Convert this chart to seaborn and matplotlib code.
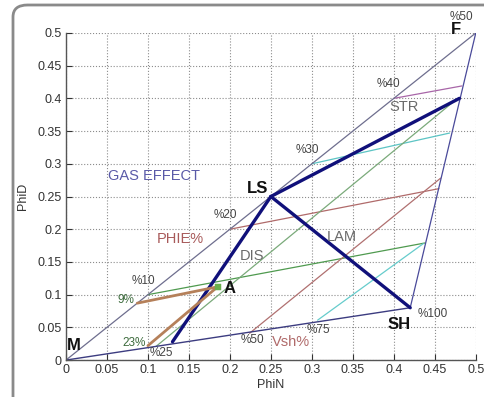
import matplotlib
matplotlib.use("Agg")
import matplotlib.pyplot as plt
from matplotlib.patches import FancyBboxPatch
import pandas as pd
import seaborn as sns

# triangle M - F - SH and the LS point
tri_x = [0.0, 0.5, 0.42, 0.0]
tri_y = [0.0, 0.5, 0.08, 0.0]
ls_x, ls_y = 0.25, 0.25

# thick model lines from LS: STR, LAM (to SH), DIS
model_end_x = [0.48, 0.42, 0.13]
model_end_y = [0.40, 0.08, 0.028]

# iso-porosity lines (PHIE%)
phie_labels = ["%10", "%20", "%30", "%40"]
phie_x0 = [0.10, 0.20, 0.30, 0.40]
phie_y0 = [0.10, 0.20, 0.30, 0.40]
phie_x1 = [0.438, 0.455, 0.468, 0.483]
phie_y1 = [0.179, 0.262, 0.347, 0.419]
phie_colors = ["#4f9a4f", "#b06a6a", "#5cc4c4", "#a866a8"]

# iso-shale lines (Vsh%)
vsh_labels = ["%25", "%50", "%75"]
vsh_x0 = [0.11, 0.224, 0.307]
vsh_y0 = [0.021, 0.041, 0.061]
vsh_x1 = [0.472, 0.457, 0.436]
vsh_y1 = [0.394, 0.278, 0.178]
vsh_colors = ["#7aaa7a", "#b07070", "#66cccc"]

# sample point A and its readings
a_x, a_y = 0.185, 0.112
read_x = [0.087, 0.10]
read_y = [0.087, 0.022]


def seg(ax, x, y, color, lw):
    d = pd.DataFrame({"x": x, "y": y})
    sns.lineplot(data=d, x="x", y="y", sort=False, color=color, lw=lw, ax=ax)


sns.set_style("whitegrid", {"grid.linestyle": ":", "grid.color": "#8c8c8c"})
plt.rcParams["font.family"] = ["Liberation Sans", "DejaVu Sans"]
plt.rcParams["grid.linewidth"] = 0.8

fig = plt.figure(figsize=(4.85, 3.97), dpi=100)
ax = fig.add_axes([0.136, 0.093, 0.845, 0.824])

for x0, y0, x1, y1, c in zip(phie_x0, phie_y0, phie_x1, phie_y1, phie_colors):
    seg(ax, [x0, x1], [y0, y1], c, 0.9)
for x0, y0, x1, y1, c in zip(vsh_x0, vsh_y0, vsh_x1, vsh_y1, vsh_colors):
    seg(ax, [x0, x1], [y0, y1], c, 0.9)

seg(ax, tri_x[:2], tri_y[:2], "#6e6e8e", 0.9)
seg(ax, tri_x[1:3], tri_y[1:3], "#4a4a9a", 0.9)
seg(ax, tri_x[2:], tri_y[2:], "#3c3c80", 1.0)

for ex, ey in zip(model_end_x, model_end_y):
    seg(ax, [ls_x, ex], [ls_y, ey], "#10107a", 2.4)

for rx, ry in zip(read_x, read_y):
    seg(ax, [rx, a_x], [ry, a_y], "#b5805a", 2.0)
sns.scatterplot(x=[a_x], y=[a_y], marker="s", s=18, color="#6ab04c",
                edgecolor="#6ab04c", ax=ax, zorder=5)

ax.set_xlim(0, 0.5)
ax.set_ylim(0, 0.5)
ax.set_xticks([i * 0.05 for i in range(11)])
ax.set_yticks([i * 0.05 for i in range(11)])
ax.set_xticklabels(["0", "0.05", "0.1", "0.15", "0.2", "0.25", "0.3", "0.35", "0.4", "0.45", "0.5"])
ax.set_yticklabels(["0", "0.05", "0.1", "0.15", "0.2", "0.25", "0.3", "0.35", "0.4", "0.45", "0.5"])
ax.tick_params(direction="in", length=4, labelsize=9, colors="#333333",
               bottom=True, left=True, pad=3)
ax.set_xlabel("PhiN", fontsize=9, color="#333333", labelpad=2)
ax.set_ylabel("PhiD", fontsize=9, color="#333333", labelpad=6)
for side in ["top", "right"]:
    ax.spines[side].set_visible(False)
for side in ["left", "bottom"]:
    ax.spines[side].set_color("#555555")
    ax.spines[side].set_linewidth(1.0)

small = dict(fontsize=8.5, color="#444444")
bold = dict(fontsize=12, fontweight="bold", color="#111111")
region = dict(fontsize=10.5, color="#6a6a6a")

ax.text(0.476, 0.505, "F", ha="center", va="center", clip_on=False, **bold)
ax.text(0.483, 0.525, "%50", ha="center", va="center", clip_on=False, **small)
ax.text(0.234, 0.263, "LS", ha="center", va="center", **bold)
ax.text(0.407, 0.054, "SH", ha="center", va="center", **bold)
ax.text(0.009, 0.023, "M", ha="center", va="center", **bold)
ax.text(0.200, 0.109, "A", ha="center", va="center", **bold)

ax.text(0.393, 0.422, "%40", ha="center", va="center", **small)
ax.text(0.295, 0.321, "%30", ha="center", va="center", **small)
ax.text(0.195, 0.222, "%20", ha="center", va="center", **small)
ax.text(0.094, 0.121, "%10", ha="center", va="center", **small)
ax.text(0.116, 0.011, "%25", ha="center", va="center", **small)
ax.text(0.228, 0.030, "%50", ha="center", va="center", **small)
ax.text(0.308, 0.046, "%75", ha="center", va="center", **small)
ax.text(0.448, 0.071, "%100", ha="center", va="center", **small)

ax.text(0.073, 0.092, "9%", ha="center", va="center", fontsize=8.5, color="#3d6b3d")
ax.text(0.083, 0.026, "23%", ha="center", va="center", fontsize=8.5, color="#3d6b3d")

ax.text(0.413, 0.387, "STR", ha="center", va="center", **region)
ax.text(0.227, 0.159, "DIS", ha="center", va="center", **region)
ax.text(0.337, 0.188, "LAM", ha="center", va="center", **region)
ax.text(0.108, 0.281, "GAS EFFECT", ha="center", va="center", fontsize=10.5, color="#5a5aa8")
ax.text(0.139, 0.185, "PHIE%", ha="center", va="center", fontsize=10.5, color="#a85a5a")
ax.text(0.275, 0.028, "Vsh%", ha="center", va="center", fontsize=10.5, color="#b06a6a")

# rounded frame around the figure
frame = FancyBboxPatch((13 / 485, -0.2), 1.2, 1 - 5 / 397 + 0.2,
                       boxstyle="round,pad=0,rounding_size=0.03",
                       transform=fig.transFigure, fill=False,
                       edgecolor="#8a8a8a", lw=2.0)
fig.patches.append(frame)

fig.savefig("out.png", dpi=100)
